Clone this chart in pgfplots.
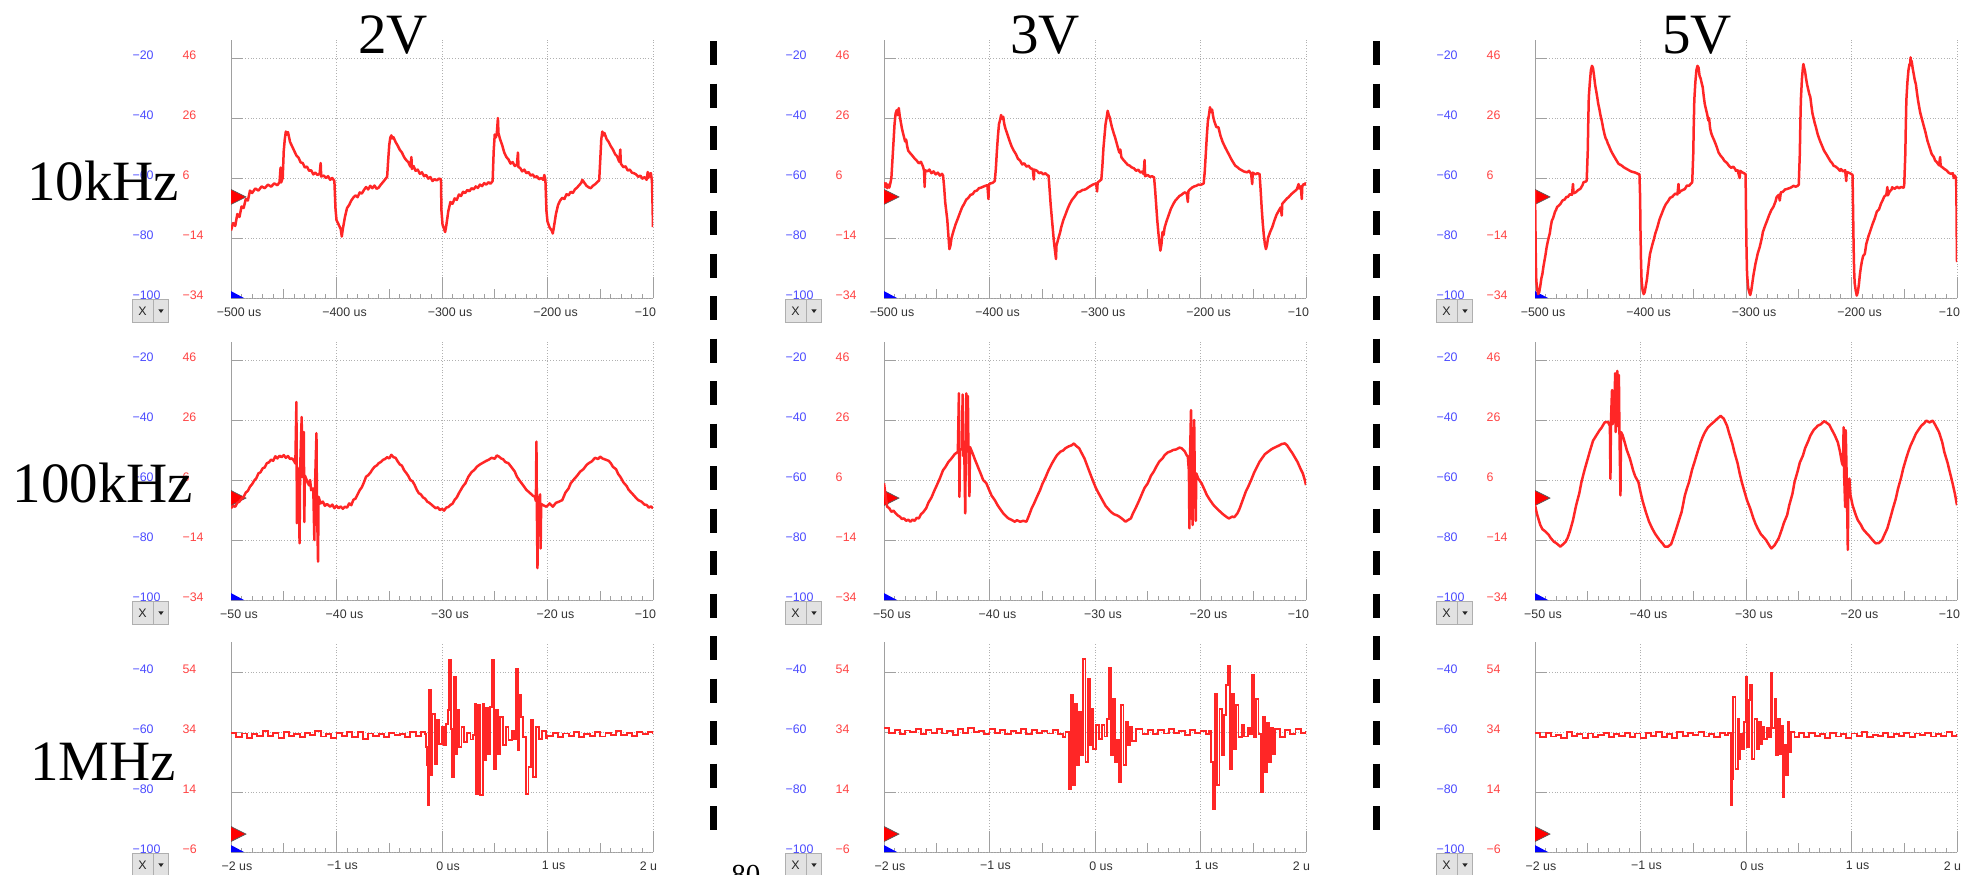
\documentclass[border=0pt]{standalone}
\usepackage{pgfplots}
\pgfplotsset{compat=1.18}
\usepackage{fontspec}
\setmainfont{Liberation Serif}
\newfontfamily\uifont{Liberation Sans}
\definecolor{tr}{HTML}{FF2626}
\definecolor{lblue}{HTML}{4B4BFF}
\definecolor{lred}{HTML}{FF4444}
\definecolor{axgray}{HTML}{A0A0A0}
\definecolor{gridgray}{HTML}{B0B0B0}
\definecolor{boxfill}{HTML}{E2E2E2}
\definecolor{boxedge}{HTML}{AFAFAF}
\definecolor{labtxt}{HTML}{333333}
\newcommand{\yl}[2]{\makebox[25pt][l]{\textcolor{lblue}{#1}}\makebox[24pt][l]{\textcolor{lred}{#2}}}
\newcommand{\tickfont}{\uifont\fontsize{6.2}{7}\selectfont}
\pgfplotsset{
  osc/.style={
    scale only axis, width=211pt,
    axis lines*=left,
    axis line style={draw=axgray, line width=0.5pt},
    tick style={draw=axgray, line width=0.5pt},
    tick align=inside,
    major tick length=10.5pt,
    minor tick length=2.2pt,
    xmajorgrids,
    major grid style={densely dotted, draw=gridgray, line width=0.5pt},
    enlargelimits=false,
    ytick=\empty,
    minor x tick num=9,
    xticklabel style={font=\tickfont, text=labtxt, anchor=north, inner sep=0pt, yshift=-4.5pt, xshift=4pt},
    yticklabel style={font=\tickfont, anchor=east, inner sep=0pt, yshift=1.5pt},
    extra y tick style={grid=major, major tick length=6pt},
    extra x tick style={grid=none, major tick length=4.5pt},
    extra x tick labels={{},{},{},{}},
  },
  rowA/.style={osc, height=129pt, ymin=-34, ymax=52,
    extra y ticks={-34,-14,6,26,46},
    extra y tick labels={\yl{−100}{−34},\yl{−80}{−14},\yl{−60}{6},\yl{−40}{26},\yl{−20}{46}},
    minor ytick={-31.5,-29,...,51}},
  rowC/.style={osc, height=105pt, ymin=-6, ymax=64,
    extra y ticks={-6,14,34,54},
    extra y tick labels={\yl{−100}{−6},\yl{−80}{14},\yl{−60}{34},\yl{−40}{54}},
    minor ytick={-3.5,-1,...,63.5}},
  r1/.style={rowA, xmin=-500, xmax=-100, xtick={-500,-400,-300,-200,-100},
    xticklabels={−500 us,−400 us,−300 us,−200 us,\makebox[0pt][r]{−10\hspace{2.5pt}}},
    extra x ticks={-450,-350,-250,-150}},
  r2/.style={rowA, xmin=-50, xmax=-10, xtick={-50,-40,-30,-20,-10},
    xticklabels={−50 us,−40 us,−30 us,−20 us,\makebox[0pt][r]{−10\hspace{2.5pt}}},
    extra x ticks={-45,-35,-25,-15}},
  r3/.style={rowC, xmin=-2, xmax=2, xtick={-2,-1,0,1,2},
    xticklabels={−2 us,−1 us,0 us,1 us,\makebox[0pt][r]{2 u\hspace{1pt}}},
    xticklabel style={xshift=-1pt},
    extra x ticks={-1.5,-0.5,0.5,1.5}},
  trace/.style={draw=tr, line width=1.25pt, line join=round, mark=none},
  trace3/.style={draw=tr, line width=0.95pt, line join=miter, mark=none, const plot},
  trig/.style={fill=red, draw=black!65, line width=0.35pt},
  trigb/.style={fill=blue, draw=none},
}
\begin{document}
\begin{tikzpicture}
\useasboundingbox (0,0) rectangle (980.5pt,-437pt);
% ================= Row 1 : 10 kHz =================
\begin{axis}[r1, at={(115.5pt,-149pt)}, anchor=south west]
\addplot[trig] coordinates {(-500,-2.8) (-485.8,-0.3) (-500,2.2)};
\addplot[trigb] coordinates {(-500,-34) (-500,-31.7) (-487.7,-34)};
\addplot[trace] coordinates {
(-500,-11.5) (-498,-9) (-496,-10) (-494,-6) (-492,-7) (-490,-3.5) (-488,-4) (-486,-1) (-484,-1.5) (-482,1.8) (-480,1) (-477,2.5) (-474,1.8) (-471,3.2) (-468,2.6) (-465,3.8) (-462,3.1) (-459,4.2) (-456,3.6) (-454,4.6) (-453,9.5) (-452.5,4.5) (-451,6) (-450,15) (-449,19) (-448,21.5) (-447,20.5) (-446,21.3) (-444,18) (-442,16.5) (-440,15) (-438,13.5) (-436,12.8) (-434,11.2) (-432,11) (-430,9.5) (-428,9.8) (-426,8.4) (-424,8.6) (-422,7.2) (-420,7.8) (-418,7) (-416,7.4) (-415,11) (-414.5,6.5) (-412,6.8) (-410,6) (-408,6.6) (-406,5.4) (-404,6) (-402,5) (-401,-4) (-400,-8) (-398,-9.5) (-396,-11) (-395,-13.5) (-394,-11) (-392,-7) (-390,-4) (-388,-3) (-386,-1.5) (-384,-0.5) (-382,0.2) (-380,-0.4) (-378,1.2) (-376,0.8) (-374,2) (-372,3) (-370,2.2) (-368,3.4) (-366,2.6) (-364,3.5) (-362,2.4) (-360,2.8) (-358,3.8) (-356,4.6) (-354,5.5) (-352,6.4) (-351,12) (-350,17) (-349,19.5) (-348,20.2) (-347,19.2) (-346,19.6) (-344,18) (-342,16.8) (-340,15.4) (-338,14.5) (-336,13) (-334,12) (-332,11.3) (-330,9.8) (-329,13) (-328.5,9) (-327,10) (-325,8.4) (-323,8.8) (-321,7.4) (-319,7.9) (-317,6.6) (-315,7) (-313,5.8) (-311,6.3) (-309,5) (-307,5.6) (-305,5.2) (-303,5.8) (-301,5.6) (-300.5,-5) (-299.5,-9.5) (-298,-11) (-297,-12) (-296,-10) (-294,-5) (-292,-2) (-290,-2.6) (-288,-0.8) (-286,-1.3) (-284,0.5) (-282,0) (-280,1.4) (-278,1) (-276,2) (-274,1.6) (-272,2.6) (-270,2.2) (-268,3.2) (-266,2.7) (-264,3.8) (-262,3.3) (-260,4.3) (-258,3.8) (-256,4.6) (-254,4.1) (-252,5) (-251,15) (-250,20.5) (-249,19.5) (-248,21) (-247,26) (-246.5,21) (-245,19) (-243,17) (-241,14.5) (-239,13) (-237,12.2) (-235,10.8) (-233,11.3) (-231,10) (-229,10.4) (-228,14.5) (-227.5,9.6) (-226,9.4) (-224,8.2) (-222,8.8) (-220,7.6) (-218,8) (-216,6.8) (-214,7.2) (-212,6.2) (-210,6.6) (-208,5.6) (-206,6) (-204,5.4) (-203,7) (-202,5.5) (-201,-5) (-200,-8.5) (-198,-10.5) (-196,-11.5) (-195,-12.5) (-194,-10.5) (-192,-6) (-190,-3) (-188,-1.5) (-186,-0.6) (-184,-1) (-182,0.6) (-180,0.2) (-178,1.4) (-176,1) (-174,2.2) (-172,2.8) (-170,3.6) (-168,4.4) (-167,5.4) (-165,4.4) (-163,3.4) (-161,2.9) (-159,2.6) (-157,3.4) (-155,3.9) (-153,4.6) (-151,5.2) (-150,12) (-149,19) (-148,21.5) (-147,20.2) (-146,21) (-144,19) (-142,18) (-140,16.6) (-138,15.5) (-136,14) (-134,13.2) (-132,11.4) (-131,15.5) (-130.5,10.8) (-128,9.6) (-126,9.9) (-124,8.5) (-122,8.8) (-120,7.8) (-118,7.6) (-116,7.2) (-114,6.4) (-112,6.8) (-110,5.8) (-108,6.3) (-106,5.4) (-105,8) (-104.5,6) (-103,7.4) (-102,7.6) (-101,5) (-100.5,-2) (-100,-10.4)
};
\end{axis}
\begin{axis}[r1, at={(442pt,-149pt)}, anchor=south west]
\addplot[trig] coordinates {(-500,-2.8) (-485.8,-0.3) (-500,2.2)};
\addplot[trigb] coordinates {(-500,-34) (-500,-31.7) (-487.7,-34)};
\addplot[trace] coordinates {
(-500,4.6) (-499,3) (-498,4.2) (-497,2.6) (-496,3.8) (-495,2.8) (-494,4.2) (-493,6) (-492,12) (-491,18) (-490,24) (-489,27.5) (-488,28.6) (-487,27) (-486,29.3) (-485,26.5) (-484,24.5) (-483,22.5) (-482,21) (-481,19.6) (-480,18.2) (-479,18.8) (-478,16.5) (-477,15.1) (-475,14.2) (-473,13.4) (-471,12.5) (-469,11.8) (-467,10.9) (-465,11.4) (-463,9.8) (-462,8.4) (-461.5,3) (-461,8.6) (-459,8.2) (-457,8.8) (-455,7.6) (-453,8.2) (-451,7.2) (-449,7.8) (-447,6.8) (-445,7.4) (-444,6.8) (-443,3) (-442,-2) (-441,-5) (-440,-8) (-439,-13) (-438,-17.7) (-437,-16.5) (-436,-14) (-434,-11.5) (-432,-9.3) (-430,-7.5) (-428,-5.6) (-426,-3.8) (-424,-2.6) (-422,-1.2) (-420,-0.6) (-418,0.4) (-416,0.6) (-414,1.6) (-412,1.8) (-410,2.6) (-408,2.8) (-406,3.1) (-404,3.4) (-402,3.6) (-401,-1) (-400.5,3.9) (-399,4.2) (-397,4.4) (-395,5) (-394,9) (-393,15) (-392,20) (-391,24) (-390,25.3) (-389,27) (-388,25.8) (-387,26.4) (-386,24) (-385,22.6) (-383,20.5) (-381,18.4) (-379,16.5) (-377,15.1) (-375,14) (-373,12.4) (-371,11.8) (-369,10.5) (-367,10.9) (-365,9.8) (-363,10.1) (-361,9.2) (-359,9) (-358,5.5) (-357.5,8.8) (-355,8.4) (-353,7.6) (-351,7.9) (-349,7.2) (-347,7.6) (-345,6.9) (-344,6.8) (-343,2) (-342,-3) (-341,-7) (-340,-11) (-339,-15) (-338,-18) (-337,-21) (-336.5,-16.5) (-335,-14.5) (-333,-12) (-332,-10.4) (-330,-8) (-328,-6.2) (-326,-4.3) (-324,-2.7) (-322,-1.4) (-320,-0.5) (-318,0.4) (-316.5,1.2) (-314,1.5) (-312,2) (-310,2.1) (-308.6,2.3) (-305,3.2) (-302,3.8) (-299,4.2) (-298,1.5) (-297.5,4.5) (-296,4.9) (-294,5.5) (-293,10) (-292,16) (-291,20) (-290,24) (-289,26) (-288,28.4) (-287,27) (-286,26.2) (-285,24.5) (-284,23) (-282,20.6) (-281,19.6) (-279,17) (-277,14.5) (-276,15.5) (-275,12.9) (-273,12) (-271,11.2) (-269,10.4) (-267,10.1) (-265.5,9.6) (-263,9.2) (-261,8.4) (-259,8.8) (-257,7.8) (-255,8.2) (-254,7.3) (-253,12) (-252.5,6.6) (-250,7) (-248,6.4) (-246,6.6) (-244,6.2) (-243,2) (-242,-3) (-241,-8) (-240,-12) (-239,-15.5) (-238,-18.2) (-237,-16) (-236,-12) (-235,-13) (-234,-10.5) (-232,-8.2) (-230,-6.2) (-228,-4.2) (-226,-2.8) (-224,-1.6) (-222,-0.8) (-220,0) (-218,0.4) (-216,1) (-214.5,1.2) (-213,0.8) (-212,-2) (-211.5,1.6) (-210,2.2) (-208,2.8) (-206,3.2) (-204,3.4) (-202,3.8) (-200,3.7) (-198,4) (-197,4.2) (-196,8) (-195,14) (-194,20) (-193,25) (-192,27) (-191,29.6) (-190,28) (-189,28.8) (-188,26.5) (-187,25) (-186,24) (-185,23) (-183,22.9) (-181,20) (-179,18) (-177,16.5) (-175,15.1) (-173,13.8) (-171,12.4) (-169,11.2) (-167,10.1) (-165,9.6) (-163,9) (-161,8.6) (-159,8.2) (-157,8) (-155.7,7.9) (-154,8.4) (-152,7.4) (-151,4) (-150.5,7.8) (-148,7.2) (-146,7.6) (-144,7.3) (-143,2) (-142,-4) (-141,-9) (-140,-13) (-139,-16) (-138,-17.7) (-137,-16.4) (-136,-14) (-134,-12) (-132,-10.4) (-130,-8.2) (-128,-6.3) (-126,-5) (-124,-3.8) (-123,-6.5) (-122.5,-2.6) (-120,-1.6) (-118,-0.8) (-116.5,-0.4) (-114,0.6) (-112,1.2) (-110,1.8) (-108.6,2.3) (-107,4) (-106.5,2.5) (-105,3.2) (-104,-1) (-103.5,3.4) (-102,4) (-101,3.8) (-100,4.5)
};
\end{axis}
\begin{axis}[r1, at={(767.5pt,-149pt)}, anchor=south west]
\addplot[trig] coordinates {(-500,-2.8) (-485.8,-0.3) (-500,2.2)};
\addplot[trigb] coordinates {(-500,-34) (-500,-31.7) (-487.7,-34)};
\addplot[trace] coordinates {
(-500,2) (-499.6,-10) (-499.2,-22) (-498.8,-28) (-498,-31) (-497,-32.7) (-496,-32) (-495,-30) (-494,-27.5) (-493,-26) (-492,-23.5) (-491,-21.5) (-490,-19.5) (-489,-17.1) (-488,-15.4) (-487,-13.8) (-486,-12.5) (-485,-10) (-484,-8.2) (-483,-7.5) (-482,-6.4) (-481,-5.2) (-480,-4.6) (-479,-3.6) (-478,-3.4) (-476,-2.7) (-474,-1.5) (-472,-1.2) (-470,-0.2) (-469,-0.4) (-467,0.6) (-465,0.4) (-464,4) (-463.5,0.9) (-461.5,1.2) (-459,2) (-457,2.4) (-455,3.6) (-454,4.6) (-452,4.8) (-451,5.1) (-450,15) (-449.5,25) (-449,33) (-448,38) (-447,42) (-446,43.4) (-445,42.6) (-444,40) (-443,37) (-442,35) (-441,32.9) (-440,30.6) (-439,29) (-438,27) (-437,25.5) (-436,23.8) (-435.6,22.9) (-434,20.4) (-433,19.2) (-432,18.6) (-431,17.5) (-430,16.8) (-428,15.1) (-426,13.8) (-424,12.6) (-422,11.4) (-420.7,10.7) (-418,10.2) (-416,9.6) (-414,9.2) (-413,9) (-411,8.6) (-409,8.2) (-407,8) (-405,7.8) (-403,7.5) (-402,7.3) (-401,7.3) (-400.4,0) (-400,-12) (-399.5,-22) (-399,-28) (-398,-31.5) (-397,-32.7) (-396,-32) (-395,-30) (-394,-28) (-393,-25) (-392,-22) (-391,-19.3) (-389,-16.5) (-387,-14) (-386,-12.5) (-385,-11.5) (-384,-10.4) (-382,-7.8) (-380,-6) (-378,-4.2) (-376,-2.7) (-374,-1.8) (-372,-0.6) (-370,-0.3) (-369,0.1) (-367,0.8) (-365,0.5) (-364,4) (-363.5,1) (-362,1.6) (-360,2) (-358,2.3) (-356,3.5) (-354,3.4) (-352,4.2) (-351,4.5) (-350,14) (-349.5,24) (-349,32) (-348,38) (-347,42) (-346,43.4) (-345,42.8) (-344,40) (-343,39.2) (-342,37.6) (-341,36.2) (-340,33) (-339,30.5) (-338,29) (-337,27.5) (-335.6,25.1) (-335,26) (-334,22.5) (-333,21) (-332,20) (-330,18.4) (-328,16.6) (-326,14.5) (-324,13.4) (-322,12.6) (-320.7,11.8) (-318,11) (-316,10) (-314,9.4) (-312,9.8) (-310,8.8) (-309.6,8.4) (-308,8.6) (-306,6) (-305.5,8.4) (-304,8) (-302,7.6) (-300.4,7.3) (-300,-5) (-299.5,-18) (-299,-26) (-298,-30.5) (-297,-32) (-296,-33) (-295,-31.5) (-294,-29) (-293,-26.5) (-292,-24.5) (-291,-22.5) (-290,-21) (-289,-19.3) (-287,-17) (-285,-14) (-284,-12) (-282,-10) (-280,-8.2) (-278,-6.3) (-276,-4.7) (-274,-3.6) (-272,-1.8) (-271,-0.4) (-269,0.4) (-268,-1.5) (-267,1.2) (-265,1.4) (-263,2.2) (-261.5,2.3) (-259,2.6) (-257,2.9) (-255,3.4) (-253,3.1) (-251,3.4) (-250,3.8) (-249,14) (-248.5,24) (-248,32) (-247,39) (-246,43) (-245.6,44) (-245,43) (-244,41.5) (-243,39) (-242,37) (-241,35.5) (-240,34) (-239,32.9) (-238,30) (-237,27.5) (-236,26) (-235,24.5) (-233.7,22.9) (-232,20.5) (-230,18.5) (-228,16.8) (-226,15.1) (-224,14) (-222,12.8) (-220,11.6) (-218,10.8) (-217,10.1) (-215,9.8) (-213,9.2) (-211,8.4) (-210,9) (-208,8.2) (-206,8.6) (-205,5) (-204.5,8) (-203,7.8) (-201,7.5) (-200,7.3) (-199,7) (-198.5,-5) (-198,-17) (-197.5,-25) (-197,-29) (-196,-31.5) (-195,-33.2) (-194,-32) (-193,-29.5) (-192,-26) (-191,-23.5) (-190,-21.5) (-189,-20) (-187.4,-19.3) (-186,-16) (-184,-13.5) (-182,-11.4) (-180,-9.3) (-178,-7.5) (-176,-5.2) (-174,-4.5) (-172,-2.5) (-170.7,-1.6) (-169,-0.2) (-167,0.4) (-166,3) (-165.5,0.2) (-164,1.4) (-162,2.2) (-161.5,2.9) (-159,2.4) (-157,3.1) (-155,2.6) (-153,3) (-151,2.8) (-150.4,2.9) (-150,4) (-149,14) (-148.5,24) (-148,32) (-147,38) (-146,42) (-145,44) (-144.5,43.5) (-144,46.2) (-143.5,44.5) (-143,45) (-142,42.5) (-141,40.6) (-140,38.6) (-139,37.3) (-138,34.5) (-137,32) (-136,30) (-135,28) (-133.7,26.2) (-132,24) (-130,21.4) (-128,18.4) (-126,16.2) (-124,14) (-122,13) (-120.7,11.8) (-119,11.2) (-117,10.2) (-116,13) (-115.5,10) (-114,9.6) (-112,9) (-110,8.6) (-109.6,8.4) (-108,7.8) (-106,7.4) (-104,7.6) (-103,6) (-102,6.8) (-101,6) (-100.6,2) (-100.3,-12) (-100,-22)
};
\end{axis}
% ================= Row 2 : 100 kHz =================
\begin{axis}[r2, at={(115.5pt,-300pt)}, anchor=south west]
\addplot[trig] coordinates {(-50,-2.5) (-48.58,0) (-50,2.5)};
\addplot[trigb] coordinates {(-50,-34) (-50,-31.7) (-48.77,-34)};
\addplot[trace] coordinates {
(-50,-3.4) (-49.8,-2.6) (-49.6,-2.9) (-49.4,-1.6) (-49.2,-1.2) (-49,-0.2) (-48.8,0.4) (-48.6,1.8) (-48.4,2.4) (-48.2,3.8) (-48,4.6) (-47.8,5.8) (-47.6,6.6) (-47.4,8.2) (-47.2,8.6) (-47,9.9) (-46.8,10.2) (-46.6,11.6) (-46.4,11.9) (-46.2,12.8) (-46,12.4) (-45.8,13.9) (-45.6,13.2) (-45.4,14.1) (-45.2,13.6) (-45,14.3) (-44.8,13.4) (-44.6,14) (-44.4,13) (-44.2,13.2) (-44,12.2) (-43.9,11.5) (-43.8,32) (-43.75,-8.4) (-43.7,10) (-43.6,8.5) (-43.5,-15.1) (-43.45,9) (-43.3,27) (-43.25,7) (-43.1,22) (-43.05,-8) (-43,7.5) (-42.8,5.8) (-42.6,4.2) (-42.5,6) (-42.4,2.6) (-42.2,3.2) (-42.1,-14) (-42.05,2) (-41.9,21.6) (-41.85,-2) (-41.75,-21.2) (-41.7,0.4) (-41.5,-1.8) (-41.3,-1.2) (-41.1,-2.6) (-40.9,-2) (-40.6,-2.9) (-40.4,-2.2) (-40.2,-3.4) (-40,-2.6) (-39.8,-3.4) (-39.6,-2.8) (-39.4,-3.6) (-39.2,-2.9) (-39,-3.2) (-38.8,-1.8) (-38.6,-2.4) (-38.4,-0.6) (-38.2,-0.2) (-38,1.2) (-37.8,2.6) (-37.6,3.6) (-37.4,5.2) (-37.2,7.1) (-37,7.6) (-36.8,8.4) (-36.6,9.5) (-36.4,10.4) (-36.2,10.8) (-36,11.6) (-35.8,12) (-35.6,12.7) (-35.4,13) (-35.2,13.6) (-35,13.2) (-34.8,14.4) (-34.6,13.6) (-34.4,13.4) (-34.2,12.2) (-34,11.2) (-33.8,10.8) (-33.6,9.3) (-33.4,8.4) (-33.2,7.4) (-33,6) (-32.8,5.6) (-32.6,4.4) (-32.4,2.8) (-32.2,1.6) (-32,1.2) (-31.8,0.2) (-31.6,-0.2) (-31.4,-1.2) (-31.2,-1.6) (-31,-2.2) (-30.8,-2.8) (-30.6,-3.4) (-30.4,-3.1) (-30.2,-4) (-30,-3.6) (-29.8,-4.2) (-29.6,-3.2) (-29.4,-3) (-29.2,-2.3) (-29,-1.9) (-28.8,-0.6) (-28.6,0.2) (-28.4,1.6) (-28.2,2.8) (-28,4) (-27.8,4.8) (-27.5,7.1) (-27.2,8.6) (-26.9,9.5) (-26.7,10.4) (-26.4,11.2) (-26.1,11.8) (-25.8,12.4) (-25.6,12.7) (-25.3,13.4) (-25,13.1) (-24.8,14.2) (-24.6,13.8) (-24.4,13.2) (-24.2,12.9) (-24,12) (-23.7,11.6) (-23.4,10.2) (-23.1,8.8) (-22.9,7.1) (-22.6,5.6) (-22.3,4.2) (-22,2.7) (-21.7,1.8) (-21.4,0.8) (-21.2,0.4) (-21.1,-1) (-21.05,18.8) (-21,-6) (-20.95,-23.4) (-20.9,-3) (-20.8,-0.6) (-20.7,1.2) (-20.65,-16.8) (-20.6,-2) (-20.4,-2.4) (-20.1,-2.9) (-19.8,-1.8) (-19.5,-2.9) (-19.2,-1.6) (-18.9,-1.2) (-18.6,-0.7) (-18.3,1.8) (-18,3.2) (-17.8,4.9) (-17.5,6.2) (-17.2,7.4) (-16.9,8.8) (-16.6,9.6) (-16.3,11) (-16.1,11.6) (-15.8,12.2) (-15.5,13.4) (-15.2,13) (-15,13.8) (-14.8,13.2) (-14.5,12.8) (-14.2,12.4) (-14,11.6) (-13.8,10.4) (-13.5,9.6) (-13.3,8) (-13.1,7.1) (-12.8,5.2) (-12.5,4) (-12.3,2.7) (-12,1.6) (-11.7,0.4) (-11.4,-0.7) (-11.1,-1.2) (-10.8,-2.2) (-10.6,-2.3) (-10.4,-3.2) (-10.2,-2.8) (-10,-3.4)
};
\end{axis}
\begin{axis}[r2, at={(442pt,-300pt)}, anchor=south west]
\addplot[trig] coordinates {(-50,-2.5) (-48.58,0) (-50,2.5)};
\addplot[trigb] coordinates {(-50,-34) (-50,-31.7) (-48.77,-34)};
\addplot[trace] coordinates {
(-50,4.9) (-49.8,-0.5) (-49.7,-2.9) (-49.5,-3.4) (-49.3,-4.6) (-49.1,-4.2) (-48.9,-5.1) (-48.7,-5.8) (-48.5,-6.2) (-48.3,-7) (-48.1,-6.8) (-47.9,-7.6) (-47.7,-7.2) (-47.5,-7.9) (-47.3,-7.2) (-47.1,-7.6) (-46.9,-6.6) (-46.7,-6.8) (-46.5,-5.4) (-46.3,-4.8) (-46,-3.4) (-45.8,-1.6) (-45.5,0.2) (-45.2,2.7) (-45,4.2) (-44.7,6.6) (-44.4,9.3) (-44.2,10.2) (-43.9,12) (-43.6,13.2) (-43.3,14.6) (-43,15.4) (-42.9,34.9) (-42.85,0.4) (-42.8,16) (-42.6,16.4) (-42.55,34.5) (-42.5,14) (-42.4,18) (-42.3,-5.1) (-42.25,17) (-42.2,34.9) (-42.15,17.7) (-42.05,34) (-42,16.5) (-41.9,0.6) (-41.85,17) (-41.6,14.9) (-41.4,13) (-41.1,10.4) (-40.8,7.8) (-40.6,6) (-40.3,4.9) (-40,2.4) (-39.8,0.8) (-39.5,-0.7) (-39.2,-2.6) (-39,-3.6) (-38.7,-5.1) (-38.4,-6.2) (-38.2,-6.8) (-37.9,-7.3) (-37.6,-7.9) (-37.4,-7.4) (-37.1,-7.9) (-36.8,-7.6) (-36.5,-7.9) (-36.3,-6.2) (-36,-3.4) (-35.8,-2) (-35.5,0.4) (-35.2,2.7) (-35,4.6) (-34.7,6.8) (-34.4,9.3) (-34.1,11.4) (-33.8,13.2) (-33.6,14.3) (-33.3,15.4) (-33,15.9) (-32.8,16.6) (-32.5,17.2) (-32.2,17.6) (-32,18.2) (-31.8,17.4) (-31.5,16.6) (-31.3,15.2) (-31,13.2) (-30.7,10.4) (-30.4,7.6) (-30.1,4.9) (-29.9,3.2) (-29.6,1.2) (-29.3,-0.7) (-29,-2.6) (-28.8,-3.4) (-28.5,-4.6) (-28.2,-5.4) (-27.9,-5.8) (-27.7,-6.2) (-27.4,-7) (-27.1,-7.9) (-26.9,-7.4) (-26.6,-6.8) (-26.4,-5.1) (-26.1,-3) (-25.8,-0.7) (-25.5,1.8) (-25.3,3.4) (-25,4.9) (-24.7,7.4) (-24.4,9) (-24.2,10.4) (-23.9,12.2) (-23.6,13.2) (-23.4,14.3) (-23.1,15.2) (-22.8,15.6) (-22.6,16) (-22.3,16.2) (-22,16.8) (-21.8,16.6) (-21.5,15.6) (-21.3,14.2) (-21.2,13.8) (-21.1,9) (-21.05,-10.1) (-21,12) (-20.9,29.3) (-20.85,10) (-20.75,-9) (-20.7,12) (-20.6,26) (-20.55,9) (-20.45,-7.6) (-20.4,8.2) (-20.2,6.4) (-19.9,4.9) (-19.6,2.6) (-19.4,1) (-19.1,-0.7) (-18.8,-2.2) (-18.6,-3) (-18.3,-4) (-18,-5) (-17.8,-5.6) (-17.5,-6.4) (-17.3,-6.8) (-17,-6.2) (-16.8,-6.4) (-16.5,-5.1) (-16.3,-3.6) (-16,-0.7) (-15.7,2.2) (-15.5,3.6) (-15.2,6) (-14.9,8.6) (-14.7,10) (-14.4,12.1) (-14.1,13.6) (-13.9,14.6) (-13.6,15.4) (-13.3,16.2) (-13.1,16.6) (-12.8,17.1) (-12.5,17.6) (-12.3,18) (-12,18.2) (-11.8,17.6) (-11.5,16) (-11.3,15) (-11,13.2) (-10.8,12) (-10.5,9.6) (-10.3,8.2) (-10.1,5.8) (-10,4.3)
};
\end{axis}
\begin{axis}[r2, at={(767.5pt,-300pt)}, anchor=south west]
\addplot[trig] coordinates {(-50,-2.5) (-48.58,0) (-50,2.5)};
\addplot[trigb] coordinates {(-50,-34) (-50,-31.7) (-48.77,-34)};
\addplot[trace] coordinates {
(-50,-2.4) (-49.8,-5.5) (-49.5,-9) (-49.3,-10.4) (-49,-11.2) (-48.7,-12.3) (-48.5,-13.4) (-48.2,-14.6) (-48,-15) (-47.8,-15.6) (-47.6,-16.2) (-47.4,-15.6) (-47.1,-14.6) (-46.9,-13.2) (-46.7,-11.2) (-46.4,-7.4) (-46.1,-2.4) (-45.8,1.6) (-45.6,5.3) (-45.3,9.4) (-45,13.1) (-44.8,15.6) (-44.5,19.1) (-44.2,20.8) (-43.9,22.5) (-43.7,23.4) (-43.4,25.2) (-43.1,25.4) (-42.9,24) (-42.85,6.4) (-42.8,25.8) (-42.7,36) (-42.65,24.6) (-42.5,27) (-42.4,41.6) (-42.35,22) (-42.2,42.4) (-42.15,24) (-42.05,41) (-42,23) (-41.9,0.9) (-41.85,22) (-41.7,21) (-41.5,18.6) (-41.3,16) (-41,13.1) (-40.7,9.2) (-40.5,7.2) (-40.2,5.3) (-40,2) (-39.8,-1) (-39.5,-4.6) (-39.2,-7.8) (-38.9,-10.1) (-38.6,-12) (-38.4,-13) (-38.2,-14) (-37.9,-15.2) (-37.7,-16.2) (-37.4,-16.2) (-37.1,-15.4) (-36.9,-13.4) (-36.6,-10.2) (-36.3,-6.8) (-36.1,-4.6) (-35.8,0.8) (-35.6,3.2) (-35.4,5.3) (-35.1,9.6) (-34.9,11.8) (-34.6,15.3) (-34.3,18.6) (-34.1,20.4) (-33.9,21.9) (-33.6,23.6) (-33.3,24.6) (-33.1,25.2) (-32.8,26.2) (-32.6,26.8) (-32.4,27.4) (-32.1,26.4) (-31.8,24.1) (-31.6,21.6) (-31.3,18.2) (-31.1,15.3) (-30.8,11.6) (-30.6,8.2) (-30.4,5.3) (-30.1,1.6) (-29.9,-0.8) (-29.6,-3.5) (-29.3,-6.8) (-29.1,-8.6) (-28.9,-10.1) (-28.6,-12) (-28.4,-12.8) (-28.1,-14) (-27.9,-15.2) (-27.6,-16.8) (-27.3,-15.8) (-27.1,-14.6) (-26.9,-13.4) (-26.6,-10.4) (-26.4,-8.2) (-26.1,-5.7) (-25.9,-2.4) (-25.6,1.4) (-25.4,5.3) (-25.1,9) (-24.9,11.8) (-24.6,14.2) (-24.4,16.6) (-24.1,19) (-23.9,20.8) (-23.6,22.6) (-23.2,24.1) (-22.9,24.6) (-22.6,25.6) (-22.4,25.2) (-22.1,24.4) (-21.9,23) (-21.6,21) (-21.3,18.6) (-21.1,15.6) (-20.9,11.6) (-20.8,10.8) (-20.75,23.6) (-20.7,8) (-20.6,-3) (-20.55,22.6) (-20.45,6) (-20.35,-17.3) (-20.3,4) (-20.2,6.5) (-20.1,1) (-19.9,-2.4) (-19.6,-5.6) (-19.4,-7.4) (-19.1,-9) (-18.9,-10.4) (-18.6,-11.6) (-18.4,-12.3) (-18.1,-13.6) (-17.9,-14.4) (-17.7,-15.1) (-17.4,-15) (-17.1,-14) (-16.9,-12.4) (-16.6,-10.1) (-16.3,-6.4) (-16.1,-3.8) (-15.8,-0.2) (-15.6,3) (-15.3,6.8) (-15.1,9.8) (-14.8,13.4) (-14.6,15.6) (-14.4,17.5) (-14.1,19.8) (-13.9,21.4) (-13.6,23) (-13.4,24) (-13.1,25) (-12.9,25.8) (-12.6,25.2) (-12.3,25.8) (-12.1,24.6) (-11.8,22.6) (-11.7,21.9) (-11.4,18.6) (-11.2,15.3) (-10.9,11.8) (-10.6,7.5) (-10.4,4.6) (-10.2,1.4) (-10,-2.4)
};
\end{axis}
% ================= Row 3 : 1 MHz =================
\begin{axis}[r3, at={(115.5pt,-426pt)}, anchor=south west]
\addplot[trig] coordinates {(-2,-2.5) (-1.858,0) (-2,2.5)};
\addplot[trigb] coordinates {(-2,-6) (-2,-3.7) (-1.877,-6)};
\addplot[trace3] coordinates {
(-2.00,33.8) (-1.95,32.4) (-1.90,33.5) (-1.85,31.9) (-1.80,33.2) (-1.75,32.6) (-1.70,34.2) (-1.65,32.8) (-1.60,33.6) (-1.55,32.1) (-1.50,33.9) (-1.45,32.7) (-1.40,33.3) (-1.35,32.2) (-1.30,33.7) (-1.25,32.9) (-1.20,34.3) (-1.15,32.5) (-1.10,33.4) (-1.05,32.0) (-1.00,33.6) (-0.95,32.8) (-0.90,33.9) (-0.85,32.3) (-0.80,34.1) (-0.75,31.8) (-0.70,33.5) (-0.65,32.6) (-0.60,33.2) (-0.55,32.4) (-0.50,33.8) (-0.45,32.9) (-0.40,33.4) (-0.35,32.2) (-0.30,33.9) (-0.25,32.7) (-0.20,34.0) (-0.16,33.2) (-0.15,29) (-0.14,22.9) (-0.13,9.6) (-0.12,47.9) (-0.105,19.6) (-0.09,40.1) (-0.07,23.4) (-0.05,37.9) (-0.03,30.1) (0,35.7) (0.02,29.5) (0.04,36.8) (0.06,41.2) (0.07,58.1) (0.085,35) (0.095,19) (0.115,52.3) (0.13,26.8) (0.145,41.2) (0.16,29) (0.185,35.7) (0.21,30.7) (0.24,33.8) (0.27,31.5) (0.29,33) (0.31,43.4) (0.325,13.4) (0.345,42.9) (0.36,12.9) (0.385,43.4) (0.40,24.6) (0.415,42) (0.435,26.8) (0.455,42.3) (0.475,58.1) (0.49,21.8) (0.51,41.2) (0.53,26.8) (0.55,39) (0.58,29.6) (0.61,35.7) (0.63,31.2) (0.66,34.5) (0.685,31.8) (0.70,55.1) (0.72,27.9) (0.73,46.2) (0.75,39) (0.77,32.4) (0.80,13.4) (0.82,22.3) (0.84,38) (0.86,19) (0.89,35.7) (0.92,31.6) (0.95,34.4) (0.99,32.1) (1.00,32.6) (1.05,33.7) (1.10,32.3) (1.15,33.5) (1.20,32.8) (1.25,33.9) (1.30,32.4) (1.35,33.2) (1.40,32.7) (1.45,34.0) (1.50,32.5) (1.55,33.6) (1.60,32.9) (1.65,34.2) (1.70,33.0) (1.75,33.8) (1.80,32.6) (1.85,34.1) (1.90,33.2) (1.95,33.9) (2.00,33.5)
};
\end{axis}
\begin{axis}[r3, at={(442pt,-426pt)}, anchor=south west]
\addplot[trig] coordinates {(-2,-2.5) (-1.858,0) (-2,2.5)};
\addplot[trigb] coordinates {(-2,-6) (-2,-3.7) (-1.877,-6)};
\addplot[trace3] coordinates {
(-2.00,35.2) (-1.95,33.6) (-1.90,34.8) (-1.85,33.2) (-1.80,34.5) (-1.75,33.9) (-1.70,35.0) (-1.65,33.4) (-1.60,34.6) (-1.55,33.8) (-1.50,35.1) (-1.45,33.5) (-1.40,34.3) (-1.35,33.1) (-1.30,34.9) (-1.25,33.7) (-1.20,35.3) (-1.15,33.9) (-1.10,34.4) (-1.05,33.3) (-1.00,35.0) (-0.95,33.6) (-0.90,34.7) (-0.85,33.4) (-0.80,34.2) (-0.75,33.8) (-0.70,34.9) (-0.65,33.2) (-0.60,34.6) (-0.55,33.7) (-0.50,34.3) (-0.45,33.5) (-0.40,34.8) (-0.35,33.3) (-0.30,32.4) (-0.28,34) (-0.25,15.1) (-0.23,46.2) (-0.21,16.2) (-0.19,43.4) (-0.17,22.9) (-0.15,40.7) (-0.13,26.2) (-0.11,58.4) (-0.09,24) (-0.07,51.8) (-0.05,29.6) (-0.04,41.8) (-0.02,28.4) (0.01,36.2) (0.04,31.8) (0.07,36.4) (0.09,32.5) (0.11,38.4) (0.13,55.3) (0.15,26.2) (0.17,45.1) (0.19,24) (0.21,31.5) (0.23,17.3) (0.25,42.9) (0.27,22.9) (0.29,37.3) (0.31,29.6) (0.33,35.8) (0.35,31) (0.39,34.9) (0.45,33.4) (0.50,34.8) (0.55,33.2) (0.60,34.6) (0.65,33.5) (0.70,34.9) (0.75,33.7) (0.80,34.3) (0.85,33.1) (0.90,34.7) (0.95,33.6) (1.00,34.4) (1.05,33.3) (1.08,34.5) (1.10,24) (1.12,8.4) (1.14,46.8) (1.16,16.2) (1.18,41.8) (1.20,26.2) (1.22,39.6) (1.24,49.6) (1.26,56) (1.28,21.8) (1.30,46.8) (1.32,28.4) (1.34,42.9) (1.36,32.4) (1.39,36.2) (1.41,32.5) (1.45,35.2) (1.47,33.4) (1.49,52.9) (1.51,32.2) (1.53,45.1) (1.55,33.2) (1.57,14) (1.59,39) (1.61,20.7) (1.63,36.9) (1.65,24) (1.67,35.3) (1.69,26.8) (1.71,35.1) (1.75,32.2) (1.80,34.6) (1.85,33.4) (1.90,34.9) (1.95,33.6) (2.00,34.2)
};
\end{axis}
\begin{axis}[r3, at={(767.5pt,-426pt)}, anchor=south west]
\addplot[trig] coordinates {(-2,-2.5) (-1.858,0) (-2,2.5)};
\addplot[trigb] coordinates {(-2,-6) (-2,-3.7) (-1.877,-6)};
\addplot[trace3] coordinates {
(-2.00,33.8) (-1.95,32.2) (-1.90,33.6) (-1.85,32.5) (-1.80,33.1) (-1.75,32.0) (-1.70,33.9) (-1.65,32.6) (-1.60,33.3) (-1.55,31.9) (-1.50,33.5) (-1.45,32.4) (-1.40,32.9) (-1.35,33.7) (-1.30,32.2) (-1.25,33.4) (-1.20,32.6) (-1.15,33.8) (-1.10,32.3) (-1.05,33.5) (-1.00,32.1) (-0.95,33.6) (-0.90,32.8) (-0.85,34.0) (-0.80,32.4) (-0.75,33.3) (-0.70,32.0) (-0.65,33.9) (-0.60,32.7) (-0.55,33.6) (-0.50,33.1) (-0.45,34.0) (-0.40,32.5) (-0.35,33.4) (-0.30,32.3) (-0.25,33.7) (-0.20,32.9) (-0.17,33.6) (-0.14,9.6) (-0.13,18.4) (-0.12,45.7) (-0.10,21.8) (-0.08,38.4) (-0.07,25.1) (-0.06,33.5) (-0.04,28.4) (-0.02,37.3) (0,52.3) (0.01,29) (0.03,44.6) (0.04,49.6) (0.06,25.1) (0.08,38.4) (0.10,28.4) (0.12,37.3) (0.14,30) (0.15,35.6) (0.17,31.6) (0.20,35.2) (0.22,32.4) (0.24,53.8) (0.25,35.2) (0.27,45.1) (0.28,26.2) (0.30,38.4) (0.32,26.8) (0.33,36) (0.35,12.3) (0.36,29.6) (0.38,19.6) (0.40,37.3) (0.41,27.3) (0.43,34) (0.46,32.4) (0.50,33.6) (0.55,32.2) (0.60,33.8) (0.65,32.6) (0.70,33.4) (0.75,32.0) (0.80,33.7) (0.85,32.5) (0.90,33.2) (0.95,32.1) (1.00,33.5) (1.05,32.8) (1.10,33.9) (1.15,32.4) (1.20,33.1) (1.25,32.6) (1.30,33.8) (1.35,32.3) (1.40,33.4) (1.45,32.7) (1.50,33.6) (1.55,32.2) (1.60,33.5) (1.65,32.9) (1.70,33.8) (1.75,32.5) (1.80,33.3) (1.85,32.7) (1.90,33.9) (1.95,32.6) (2.00,33.4)
};
\end{axis}
% ================= decorations =================
\foreach \x in {115.5,442,767.5}{
  \foreach \b in {-149,-300,-426}{
    \draw[fill=boxfill, draw=boxedge, line width=0.5pt] ({\x pt-49.5pt},{\b pt-0.65pt}) rectangle ({\x pt-31.5pt},{\b pt-12.15pt});
    \draw[boxedge, line width=0.5pt] ({\x pt-38.7pt},{\b pt-0.65pt}) -- ({\x pt-38.7pt},{\b pt-12.15pt});
    \node[font=\uifont\fontsize{6.2}{7}\selectfont, inner sep=0pt, text=black!85] at ({\x pt-44.3pt},{\b pt-6.4pt}) {X};
    \fill[black!85] ({\x pt-36.3pt},{\b pt-5.7pt}) -- ({\x pt-33.7pt},{\b pt-5.7pt}) -- ({\x pt-35pt},{\b pt-7.5pt}) -- cycle;
  }
}
\draw[line width=3.5pt, dash pattern=on 12pt off 9.25pt] (356.75pt,-20.5pt) -- (356.75pt,-415.5pt);
\draw[line width=3.5pt, dash pattern=on 12pt off 9.25pt] (688pt,-20.5pt) -- (688pt,-415.5pt);
\begin{scope}[every node/.style={font=\fontsize{28.5}{30}\selectfont, inner sep=0pt, anchor=base}]
\node at (196.5pt,-26.5pt) {2V};
\node at (522.5pt,-26.5pt) {3V};
\node at (848.5pt,-26.5pt) {5V};
\node at (51.5pt,-100pt) {10kHz};
\node at (51.5pt,-251pt) {100kHz};
\node at (51.5pt,-390pt) {1MHz};
\end{scope}
\node[anchor=base west, font=\fontsize{14.5}{15}\selectfont, inner sep=0pt] at (365.5pt,-442pt) {80};
\end{tikzpicture}
\end{document}
